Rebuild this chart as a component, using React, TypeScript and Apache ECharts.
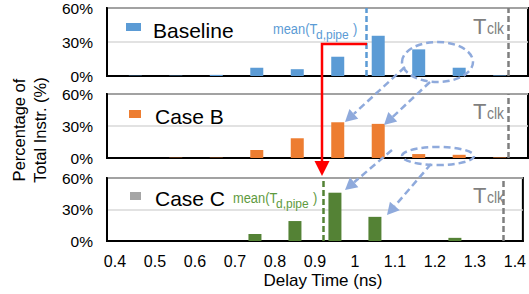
import React, { useEffect, useRef } from "react";
import * as echarts from "echarts";

// ---- data ----
const bins = [0.45, 0.55, 0.65, 0.75, 0.85, 0.95, 1.05, 1.15, 1.25, 1.35];
const baseline = [0.3, 0.3, 1, 7.3, 6, 17, 35.5, 23.5, 7.3, 0.5];
const caseB = [0, 0.3, 0.3, 7.5, 18.5, 33.5, 32, 3.7, 3, 0.5];
const caseC = [0, 0, 0, 6.7, 19, 46, 23, 0, 3, 0];
const seriesNames = ["Baseline", "Case B", "Case C"];
const xTicks = [0.4, 0.5, 0.6, 0.7, 0.8, 0.9, 1.0, 1.1, 1.2, 1.3, 1.4];
const yTicks = [0, 30, 60];
const tClk = 1.373;
const meanBaseline = 1.022;
const meanCaseC = 0.918;

const FONT = "'Liberation Sans', Arial, sans-serif";
const BLUE = "#5B9BD5";
const ORANGE = "#ED7D31";
const GREEN = "#548235";
const GREEN_TXT = "#5E9A3E";
const GRAY = "#7F7F7F";
const ARROW = "#8FAADC";

function arrowHead(x1: number, y1: number, x2: number, y2: number, len: number, half: number) {
  const dx = x2 - x1, dy = y2 - y1;
  const L = Math.hypot(dx, dy);
  const ux = dx / L, uy = dy / L;
  const bx = x2 - ux * len, by = y2 - uy * len;
  return {
    base: [bx, by],
    pts: [[x2, y2], [bx - uy * half, by + ux * half], [bx + uy * half, by - ux * half]],
  };
}

function dashedArrow(x1: number, y1: number, x2: number, y2: number) {
  const h = arrowHead(x1, y1, x2, y2, 12, 6.5);
  return [
    {
      type: "line", z: 100,
      shape: { x1, y1, x2: h.base[0], y2: h.base[1] },
      style: { stroke: ARROW, lineWidth: 2.5, lineDash: [7, 4], fill: null },
    },
    { type: "polygon", z: 100, shape: { points: h.pts }, style: { fill: ARROW } },
  ];
}

const panels = [
  { top: 8, height: 68, values: baseline, color: BLUE, lines: [{ x: meanBaseline, c: BLUE }] },
  { top: 94, height: 64, values: caseB, color: ORANGE, lines: [] as any[] },
  { top: 178, height: 63, values: caseC, color: GREEN, lines: [{ x: meanCaseC, c: GREEN }] },
];

export default function App() {
  const ref = useRef<HTMLDivElement>(null);
  useEffect(() => {
    if (!ref.current) return;
    const chart = echarts.init(ref.current, undefined, { renderer: "svg" });

    const grid = panels.map((p) => ({
      left: 107, width: 421, top: p.top, height: p.height,
      show: true, borderColor: "#000", borderWidth: 2, containLabel: false,
    }));
    const xAxis = panels.map((_, i) => ({
      type: "value", gridIndex: i, min: 0.38, max: 1.42,
      axisLine: { show: true, lineStyle: { color: "#000", width: 2 } },
      axisTick: { show: false },
      splitLine: { show: false },
      axisLabel: {
        show: i === 2, customValues: xTicks, fontSize: 16, color: "#000", fontFamily: FONT, margin: 12,
        formatter: (v: number) => String(parseFloat(v.toFixed(2))),
      },
    }));
    const yAxis = panels.map((_, i) => ({
      type: "value", gridIndex: i, min: yTicks[0], max: yTicks[yTicks.length - 1], interval: 30,
      axisLine: { show: true, lineStyle: { color: "#000", width: 2 } },
      axisTick: { show: false },
      splitLine: { show: true, lineStyle: { color: "#D9D9D9", width: 1.5 } },
      axisLabel: { fontSize: 15.5, color: "#000", fontFamily: FONT, margin: 14, formatter: "{value}%" },
    }));
    const series = panels.map((p, i) => ({
      type: "bar", name: seriesNames[i], xAxisIndex: i, yAxisIndex: i,
      data: bins.map((b, k) => [b, p.values[k]]),
      barWidth: 13,
      itemStyle: { color: p.color },
      markLine: {
        silent: true, symbol: ["none", "none"], label: { show: false },
        data: [
          { xAxis: tClk, lineStyle: { color: GRAY, type: [6, 3], width: 2.5 } },
          ...p.lines.map((l) => ({ xAxis: l.x, lineStyle: { color: l.c, type: [6, 3], width: 2.5 } })),
        ],
      },
    }));

    const legendRects = [
      { x: 126, y: 23, w: 15, h: 8, c: BLUE, ty: 30, tx: 153 },
      { x: 129, y: 110, w: 12, h: 8, c: ORANGE, ty: 116.5, tx: 155 },
      { x: 130, y: 192, w: 11, h: 8, c: "#A5A5A5", ty: 198, tx: 155 },
    ];
    const graphics: any[] = [];
    legendRects.forEach((l, i) => {
      graphics.push({ type: "rect", z: 100, shape: { x: l.x, y: l.y, width: l.w, height: l.h }, style: { fill: l.c } });
      graphics.push({
        type: "text", z: 100, x: l.tx, y: l.ty,
        style: { text: seriesNames[i], fontSize: 21, fontFamily: FONT, fill: "#000", align: "left", verticalAlign: "middle" },
      });
    });
    // Tclk labels
    [26.5, 111, 195.5].forEach((cy) => {
      graphics.push({
        type: "text", z: 100, x: 473, y: cy,
        style: { text: "T", fontSize: 22, fontFamily: FONT, fill: GRAY, align: "left", verticalAlign: "middle" },
      });
      graphics.push({
        type: "text", z: 100, x: 487, y: cy + 1.8, scaleX: 0.82,
        style: { text: "clk", fontSize: 17, fontFamily: FONT, fill: GRAY, align: "left", verticalAlign: "middle" },
      });
    });
    // mean labels
    const meanLabels = [
      { x: 273, y: 29, c: BLUE, subX: 316, closeX: 353 },
      { x: 233, y: 198, c: GREEN_TXT, subX: 276, closeX: 313 },
    ];
    meanLabels.forEach((m) => {
      graphics.push({
        type: "text", z: 100, x: m.x, y: m.y, scaleX: 0.92,
        style: { text: "mean(T", fontSize: 14, fontFamily: FONT, fill: m.c, align: "left", verticalAlign: "middle" },
      });
      graphics.push({
        type: "text", z: 100, x: m.subX, y: m.y + 6, scaleX: 1.0,
        style: { text: "d,pipe", fontSize: 12, fontFamily: FONT, fill: m.c, align: "left", verticalAlign: "middle" },
      });
      graphics.push({
        type: "text", z: 100, x: m.closeX, y: m.y, scaleX: 0.92,
        style: { text: ")", fontSize: 14, fontFamily: FONT, fill: m.c, align: "left", verticalAlign: "middle" },
      });
    });
    // red arrow
    graphics.push({
      type: "polyline", z: 110,
      shape: { points: [[367, 44], [322, 44], [322, 163]] },
      style: { stroke: "#FF0000", lineWidth: 2.5, fill: null },
    });
    graphics.push({ type: "polygon", z: 110, shape: { points: [[314.5, 161], [329.5, 161], [322, 176]] }, style: { fill: "#FF0000" } });
    // ellipses
    graphics.push({
      type: "ellipse", z: 100, shape: { cx: 437.5, cy: 62, rx: 35.5, ry: 20 },
      style: { fill: null, stroke: ARROW, lineWidth: 2.5, lineDash: [7, 4] },
    });
    graphics.push({
      type: "ellipse", z: 100, shape: { cx: 438, cy: 156, rx: 36, ry: 9 },
      style: { fill: null, stroke: ARROW, lineWidth: 2.5, lineDash: [7, 4] },
    });
    graphics.push(...dashedArrow(405, 67, 345, 122));
    graphics.push(...dashedArrow(430, 82, 384, 125));
    graphics.push(...dashedArrow(392, 150, 345, 190));
    graphics.push(...dashedArrow(431, 164, 387, 215));
    // axis titles
    graphics.push({
      type: "text", z: 100, x: 29.5, y: 130, rotation: Math.PI / 2,
      style: {
        text: "Percentage of\nTotal Instr. (%)", fontSize: 16.5, lineHeight: 21, fontFamily: FONT,
        fill: "#000", align: "center", verticalAlign: "middle",
      },
    });
    graphics.push({
      type: "text", z: 100, x: 323, y: 280,
      style: { text: "Delay Time (ns)", fontSize: 17, fontFamily: FONT, fill: "#000", align: "center", verticalAlign: "middle" },
    });

    chart.setOption({
      animation: false,
      backgroundColor: "#fff",
      textStyle: { fontFamily: FONT },
      grid, xAxis, yAxis, series,
      graphic: graphics,
    });
    return () => chart.dispose();
  }, []);
  return <div ref={ref} style={{ position: "fixed", left: 0, top: 0, width: 529, height: 294 }} />;
}
